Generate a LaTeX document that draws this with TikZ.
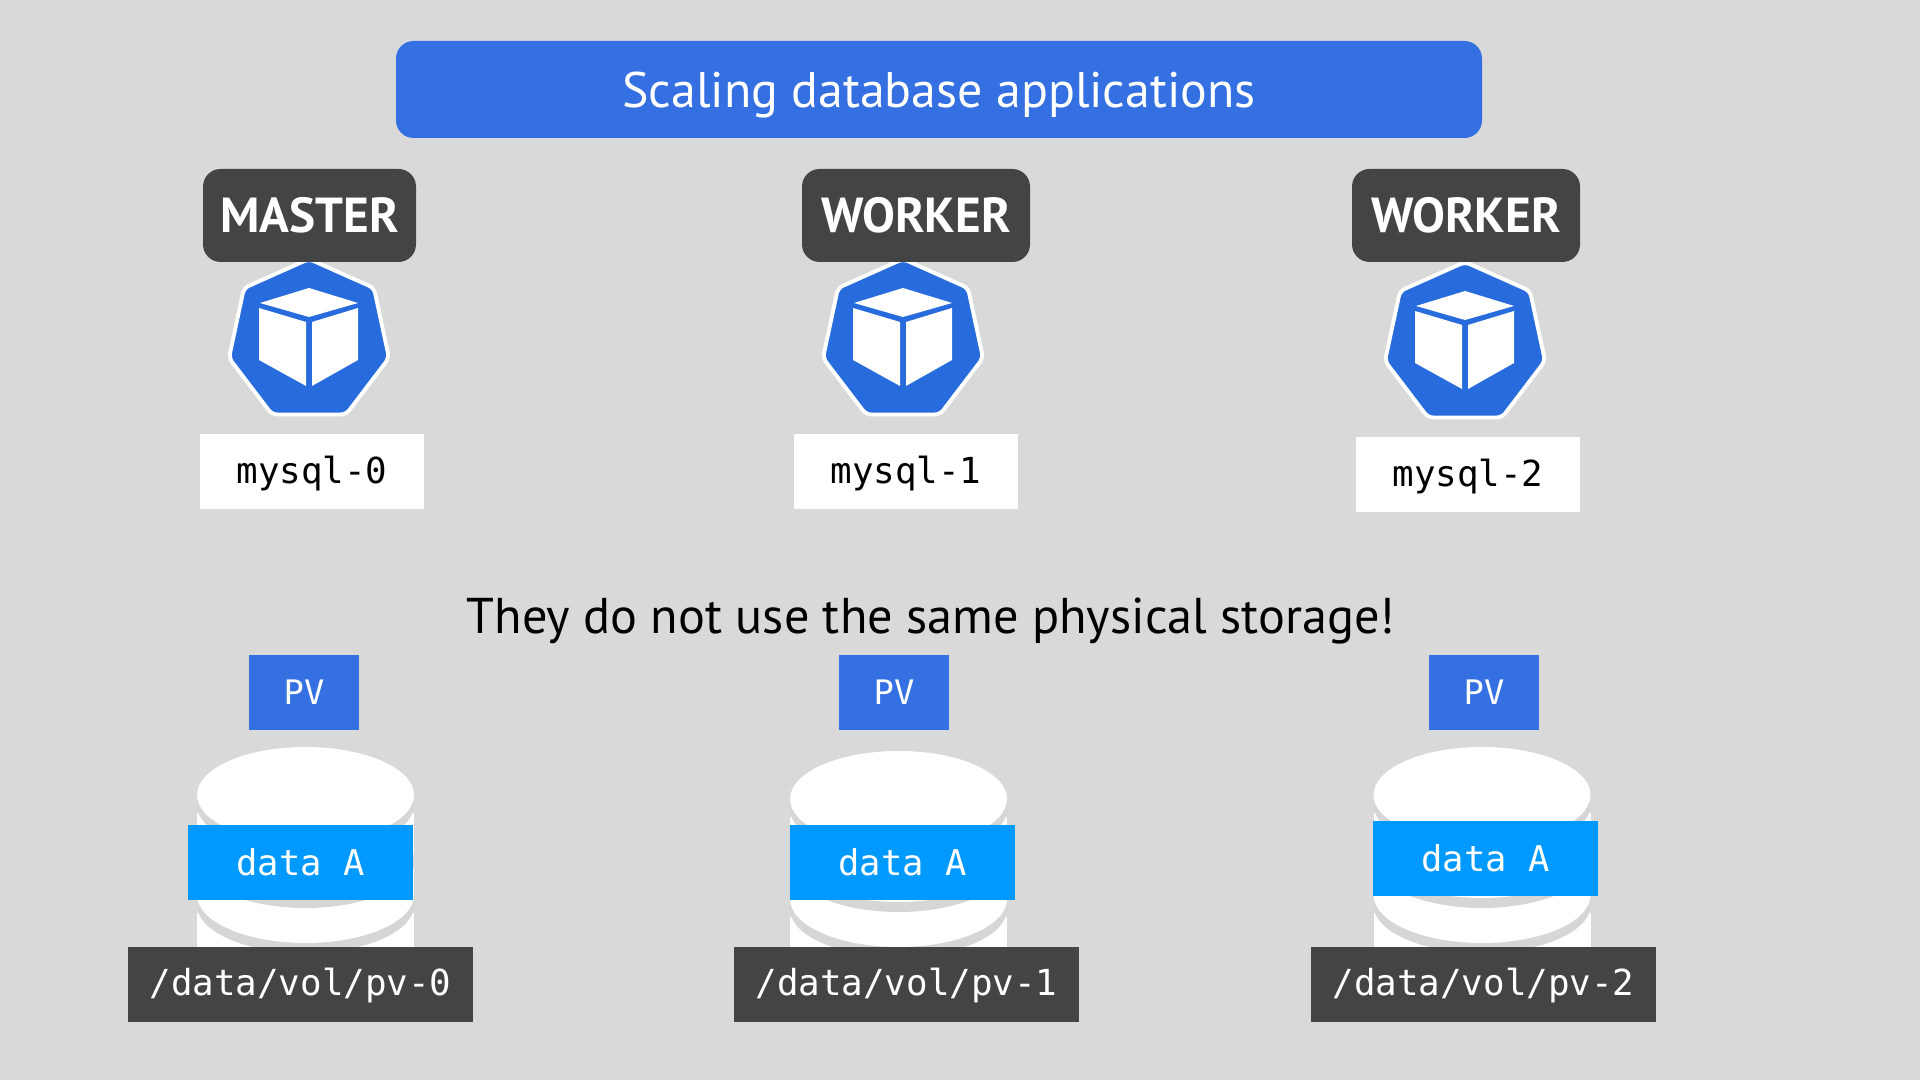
\documentclass[tikz,border=0pt]{standalone}
\usepackage{fontspec}
\setsansfont{PT Sans}
\setmonofont{DejaVu Sans Mono}
\usepackage{xcolor}
\definecolor{SlideGray}{HTML}{D9D9D9}
\definecolor{DiskGray}{HTML}{D6D6D6}
\definecolor{TitleBlue}{HTML}{3570E3}
\definecolor{PodBlue}{HTML}{276BDC}
\definecolor{DataBlue}{HTML}{0099FF}
\definecolor{DarkBox}{HTML}{444444}

\begin{document}
\begin{tikzpicture}[x=1cm,y=1cm,font=\sffamily]
  \tikzset{
    titlebox/.style={rounded corners=5pt,minimum width=10.86cm,minimum height=.97cm,
      text height=.42cm,text depth=.06cm,
      fill=TitleBlue,text=white,font=\sffamily\fontsize{14.2}{17}\selectfont},
    rolebox/.style={rounded corners=5pt,minimum height=.93cm,fill=DarkBox,text=white,
      font=\sffamily\bfseries\fontsize{14}{17}\selectfont},
    podbox/.style={minimum width=2.24cm,minimum height=.75cm,fill=white,text=black,
      text height=.30cm,text depth=.06cm,
      font=\ttfamily\fontsize{10.2}{12}\selectfont},
    pvbox/.style={minimum width=1.10cm,minimum height=.75cm,fill=TitleBlue,text=white,
      font=\ttfamily\fontsize{9.6}{12}\selectfont},
    databox/.style={minimum width=2.25cm,minimum height=.75cm,fill=DataBlue,text=white,
      font=\ttfamily\fontsize{10.1}{12}\selectfont},
    pathbox/.style={minimum width=3.45cm,minimum height=.75cm,fill=DarkBox,text=white,
      text height=.30cm,text depth=.07cm,
      font=\ttfamily\fontsize{10.2}{12}\selectfont}
  }
  \fill[SlideGray] (0,0) rectangle (19.2,10.8);
  \useasboundingbox (0,0) rectangle (19.2,10.8);

  % pod icons
  \foreach \cx/\cy in {3.09/7.40,9.03/7.40,14.65/7.37}{
    \begin{scope}[shift={(\cx,\cy)}]
      \filldraw[fill=PodBlue,draw=white,line width=1.1pt,rounded corners=1.5pt]
        (0,.81) -- (.65,.52) -- (.80,-.18) -- (.37,-.745) -- (-.37,-.745) -- (-.80,-.18) -- (-.65,.52) -- cycle;
      \fill[white] (0,.52) -- (.49,.37) -- (0,.23) -- (-.49,.37) -- cycle;
      \fill[white] (-.50,.32) -- (-.03,.18) -- (-.03,-.46) -- (-.50,-.20) -- cycle;
      \fill[white] (.03,.18) -- (.49,.32) -- (.49,-.20) -- (.03,-.46) -- cycle;
    \end{scope}
  }

  % disks, stacked from the bottom up
  \foreach \cx/\dy in {3.055/0,8.985/-.04,14.82/0}{
    \begin{scope}[shift={(\cx,\dy)}]
      \fill[white] (-1.085,1.67) rectangle (1.085,.80);
      \fill[DiskGray] (0,1.75) ellipse (1.085 and .48);
      \fill[white] (0,1.85) ellipse (1.085 and .48);
      \fill[white] (-1.085,1.85) rectangle (1.085,2.12);
      \fill[DiskGray] (0,2.20) ellipse (1.085 and .48);
      \fill[white] (0,2.30) ellipse (1.085 and .48);
      \fill[white] (-1.085,2.30) rectangle (1.085,2.67);
      \fill[DiskGray] (0,2.75) ellipse (1.085 and .48);
      \fill[white] (0,2.85) ellipse (1.085 and .48);
    \end{scope}
  }

  \node[titlebox] (title) at (9.39,9.905) {Scaling database applications};

  \node[rolebox,minimum width=2.13cm] (master) at (3.095,8.645) {MASTER};
  \node[rolebox,minimum width=2.28cm] (workerA) at (9.16,8.645) {WORKER};
  \node[rolebox,minimum width=2.28cm] (workerB) at (14.66,8.645) {WORKER};

  \node[podbox] (mysqlA) at (3.12,6.085) {mysql-0};
  \node[podbox] (mysqlB) at (9.06,6.085) {mysql-1};
  \node[podbox] (mysqlC) at (14.68,6.055) {mysql-2};

  \node[font=\sffamily\fontsize{14.3}{17}\selectfont,text=black] (note) at (9.31,4.59)
    {They do not use the same physical storage!};

  \node[pvbox] (pvA) at (3.04,3.875) {PV};
  \node[pvbox] (pvB) at (8.94,3.875) {PV};
  \node[pvbox] (pvC) at (14.84,3.875) {PV};

  \node[databox] (dataA) at (3.005,2.175) {data A};
  \node[databox] (dataB) at (9.025,2.175) {data A};
  \node[databox] (dataC) at (14.855,2.215) {data A};

  \node[pathbox] (volA) at (3.005,.955) {/data/vol/pv-0};
  \node[pathbox] (volB) at (9.065,.955) {/data/vol/pv-1};
  \node[pathbox] (volC) at (14.835,.955) {/data/vol/pv-2};
\end{tikzpicture}
\end{document}
